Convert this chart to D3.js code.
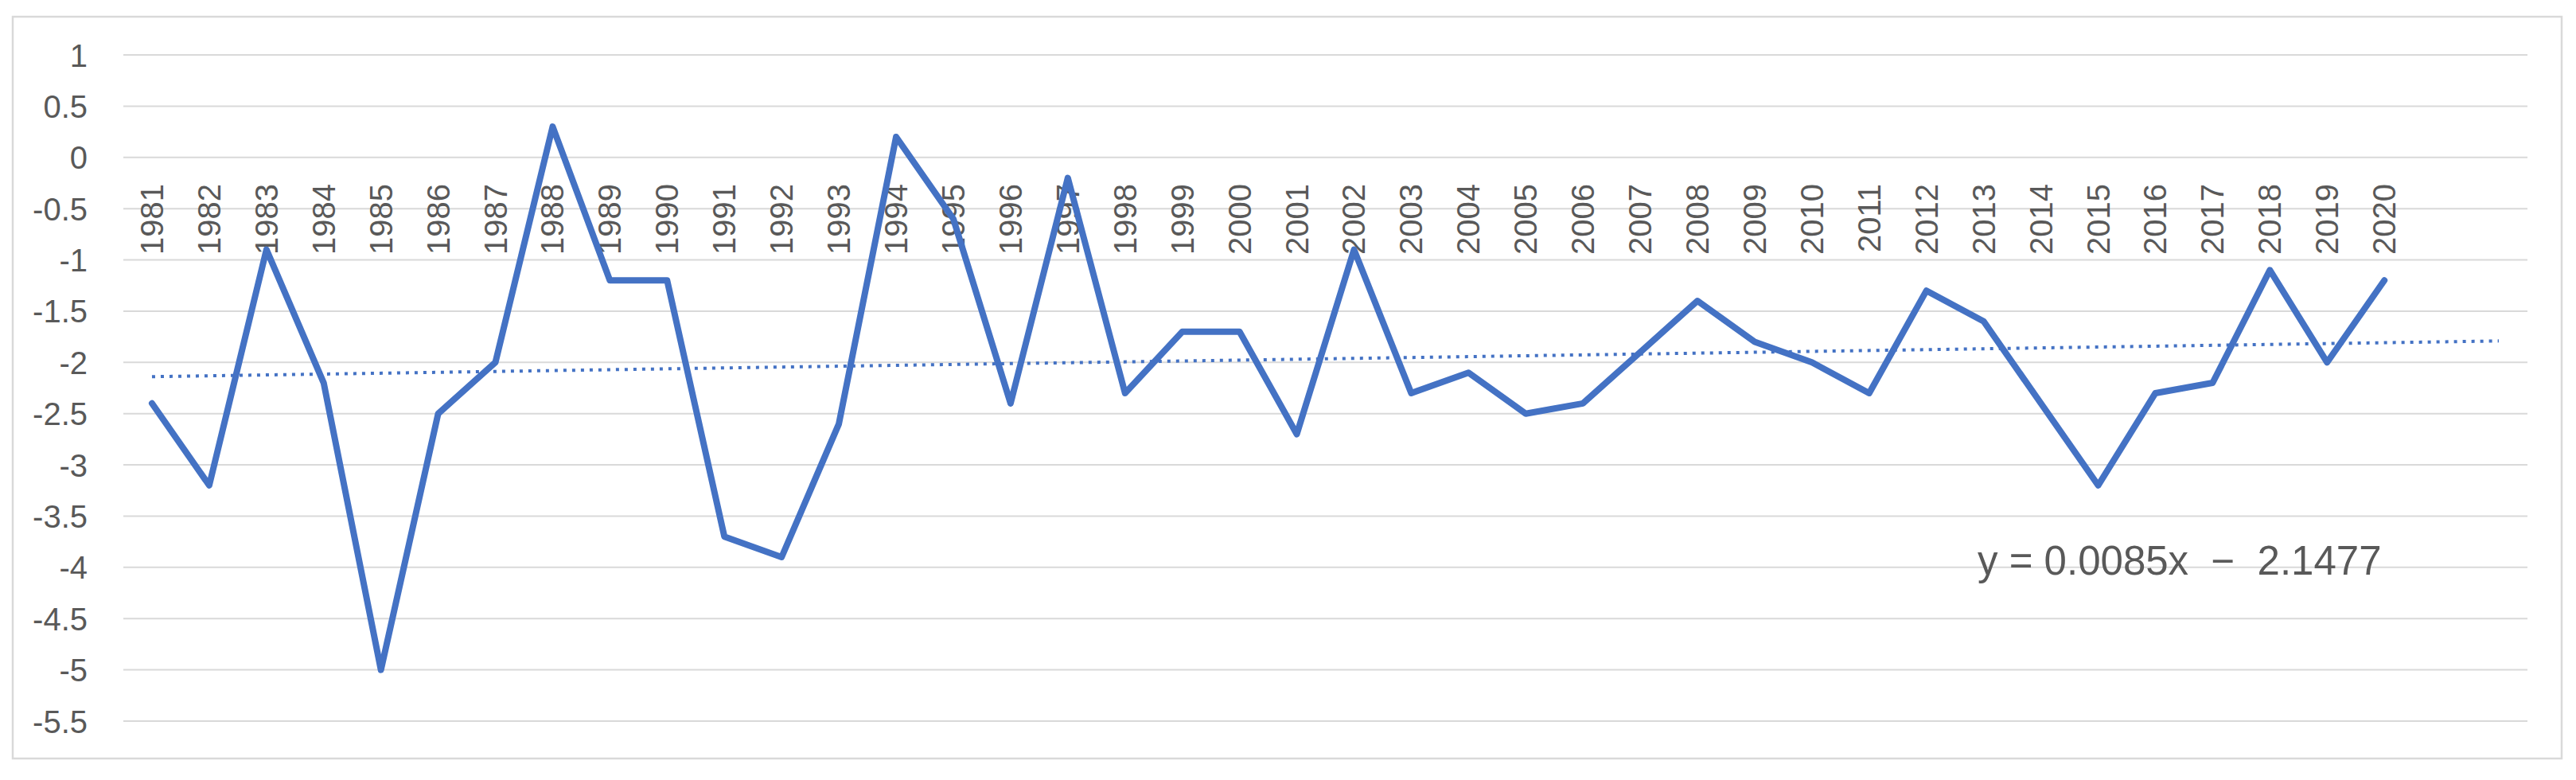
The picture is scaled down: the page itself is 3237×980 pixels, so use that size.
<!DOCTYPE html>
<html>
<head>
<meta charset="utf-8">
<script src="https://cdn.jsdelivr.net/npm/d3@7"></script>
<style>
  body { margin: 0; background: #fff; }
  text { font-family: "Liberation Sans", Arial, sans-serif; fill: #595959; }
</style>
</head>
<body>
<div id="chart"></div>
<script>
// data
var years = [1981, 1982, 1983, 1984, 1985, 1986, 1987, 1988, 1989, 1990,
  1991, 1992, 1993, 1994, 1995, 1996, 1997, 1998, 1999, 2000,
  2001, 2002, 2003, 2004, 2005, 2006, 2007, 2008, 2009, 2010,
  2011, 2012, 2013, 2014, 2015, 2016, 2017, 2018, 2019, 2020];
var values = [-2.4, -3.2, -0.9, -2.2, -5.0, -2.5, -2.0, 0.3, -1.2, -1.2,
  -3.7, -3.9, -2.6, 0.2, -0.6, -2.4, -0.2, -2.3, -1.7, -1.7,
  -2.7, -0.9, -2.3, -2.1, -2.5, -2.4, -1.9, -1.4, -1.8, -2.0,
  -2.3, -1.3, -1.6, -2.4, -3.2, -2.3, -2.2, -1.1, -2.0, -1.2];
var yTicks = [1, 0.5, 0, -0.5, -1, -1.5, -2, -2.5, -3, -3.5, -4, -4.5, -5, -5.5];
var trendSlope = 0.0085;
var trendIntercept = -2.1477;
var forecast = 2; // trendline forward periods
var equation = "y = 0.0085x  \u2212  2.1477";

var width = 3237;
var height = 980;
var plotLeft = 155, plotRight = 3176, plotTop = 69, plotBottom = 906;
var blue = "#4472C4";

var svg = d3.select('#chart')
  .append("svg")
  .attr("width", width)
  .attr("height", height)

// chart border
svg.append("rect")
  .attr("x", 16).attr("y", 21)
  .attr("width", 3203).attr("height", 932)
  .attr("fill", "#fff")
  .attr("stroke", "#d9d9d9")
  .attr("stroke-width", 2.5)

var n = years.length + forecast;
var x = d3.scaleLinear().domain([0.5, n + 0.5]).range([plotLeft, plotRight]);
var y = d3.scaleLinear().domain([-5.5, 1]).range([plotBottom, plotTop]);

// gridlines
svg.selectAll(".grid")
  .data(yTicks)
  .enter()
  .append("line")
  .attr("class", "grid")
  .attr("x1", plotLeft).attr("x2", plotRight)
  .attr("y1", function (d) { return y(d) })
  .attr("y2", function (d) { return y(d) })
  .attr("stroke", "#d9d9d9")
  .attr("stroke-width", 2)

// y axis labels
var yAxis = d3.axisLeft(y)
  .tickValues(yTicks)
  .tickSize(0)
  .tickPadding(0)
  .tickFormat(function (d) { return String(d) })

svg.append("g")
  .attr("transform", "translate(110,0)")
  .call(yAxis)
  .call(function (g) { g.select(".domain").remove() })
  .selectAll("text")
  .attr("font-size", 40)
  .attr("font-family", null)
  .attr("fill", "#595959")
  .attr("dy", "0.35em")

// x labels, rotated, hanging below the zero line
svg.selectAll(".xlab")
  .data(years)
  .enter()
  .append("text")
  .attr("class", "xlab")
  .attr("transform", function (d, i) {
    return "translate(" + x(i + 1) + ",231) rotate(-90)"
  })
  .attr("text-anchor", "end")
  .attr("dy", "0.35em")
  .attr("font-size", 40)
  .text(function (d) { return d })

// linear trendline
var trendPts = [1, n];
svg.append("line")
  .attr("x1", x(trendPts[0]))
  .attr("y1", y(trendSlope * trendPts[0] + trendIntercept))
  .attr("x2", x(trendPts[1]))
  .attr("y2", y(trendSlope * trendPts[1] + trendIntercept))
  .attr("stroke", blue)
  .attr("stroke-width", 4)
  .attr("stroke-dasharray", "4,7")

// data line
var line = d3.line()
  .x(function (d, i) { return x(i + 1) })
  .y(function (d) { return y(d) })

svg.append("path")
  .datum(values)
  .attr("d", line)
  .attr("fill", "none")
  .attr("stroke", blue)
  .attr("stroke-width", 8)
  .attr("stroke-linejoin", "round")
  .attr("stroke-linecap", "round")

// trend equation
svg.append("text")
  .attr("x", 2485)
  .attr("y", 722)
  .attr("font-size", 51)
  .style("white-space", "pre")
  .text(equation)
</script>
</body>
</html>
